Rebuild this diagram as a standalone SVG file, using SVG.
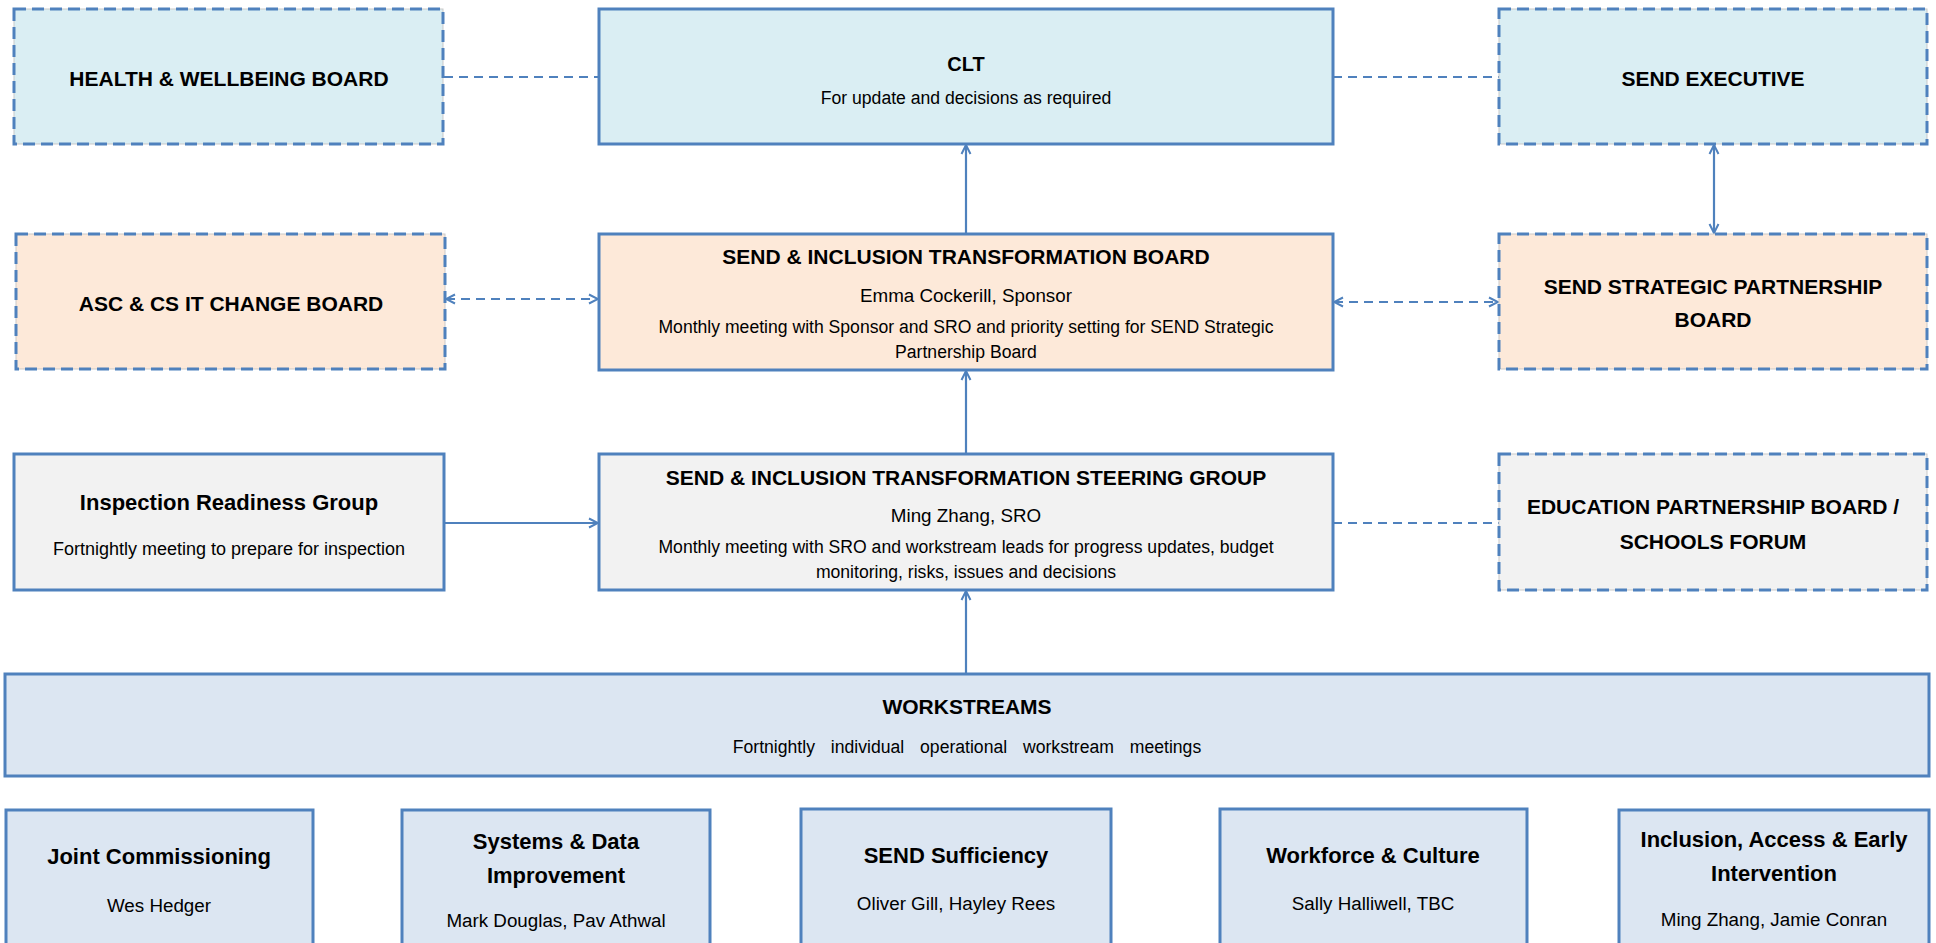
<svg xmlns="http://www.w3.org/2000/svg" width="1936" height="943" viewBox="0 0 1936 943">
<style>
text{font-family:"Liberation Sans",Arial,sans-serif;fill:#000;text-anchor:middle}
.t{font-weight:bold;font-size:21px}
.t2{font-weight:bold;font-size:22px}
.d{font-size:17.6px}
.n{font-size:18.8px}
.solid{stroke:#4F81BD;stroke-width:3}
.dash{stroke:#4F81BD;stroke-width:3;stroke-dasharray:12 6;fill:none}
.edge{stroke:#C9C9C9;stroke-width:1}
.blue{fill:#DAEEF3}
.peach{fill:#FDE9D9}
.grey{fill:#F2F2F2}
.ws{fill:#DCE6F2}
.c{stroke:#4F81BD;stroke-width:2.2;fill:none}
.cd{stroke:#4F81BD;stroke-width:2.2;fill:none;stroke-dasharray:9 6}
</style>
<defs>
<marker id="arr" viewBox="0 0 12 12" refX="11" refY="6" markerWidth="12" markerHeight="12" markerUnits="userSpaceOnUse" orient="auto-start-reverse">
<path d="M2,1.5 L11,6 L2,10.5" fill="none" stroke="#4F81BD" stroke-width="2" stroke-dasharray="none"/>
</marker>
</defs>
<rect width="1936" height="943" fill="#fff"/>

<g id="connectors">
<path class="cd" d="M444,77 H599"/>
<path class="cd" d="M1333,77 H1499"/>
<path class="cd" d="M446,299 H598" marker-start="url(#arr)" marker-end="url(#arr)"/>
<path class="cd" d="M1334,302 H1498" marker-start="url(#arr)" marker-end="url(#arr)"/>
<path class="c" d="M1714,145 V233" marker-start="url(#arr)" marker-end="url(#arr)"/>
<path class="c" d="M966,234 V145" marker-end="url(#arr)"/>
<path class="c" d="M966,454 V371" marker-end="url(#arr)"/>
<path class="c" d="M444,523 H598" marker-end="url(#arr)"/>
<path class="cd" d="M1333,523 H1499"/>
<path class="c" d="M966,674 V591" marker-end="url(#arr)"/>
</g>

<g id="health">
<rect class="blue edge" x="14" y="9" width="429" height="135"/>
<rect class="dash" x="14" y="9" width="429" height="135"/>
<text class="t" x="229" y="86">HEALTH &amp; WELLBEING BOARD</text>
</g>

<g id="clt">
<rect class="blue solid" x="599" y="9" width="734" height="135"/>
<text class="t" x="966" y="71" style="font-size:20px">CLT</text>
<text class="d" x="966" y="104">For update and decisions as required</text>
</g>

<g id="send-executive">
<rect class="blue edge" x="1499" y="9" width="428" height="135"/>
<rect class="dash" x="1499" y="9" width="428" height="135"/>
<text class="t" x="1713" y="86">SEND EXECUTIVE</text>
</g>

<g id="asc-cs">
<rect class="peach edge" x="16" y="234" width="429" height="135"/>
<rect class="dash" x="16" y="234" width="429" height="135"/>
<text class="t" x="231" y="311">ASC &amp; CS IT CHANGE BOARD</text>
</g>

<g id="transformation-board">
<rect class="peach solid" x="599" y="234" width="734" height="136"/>
<text class="t" x="966" y="264">SEND &amp; INCLUSION TRANSFORMATION BOARD</text>
<text class="n" x="966" y="302">Emma Cockerill, Sponsor</text>
<text class="d" x="966" y="333">Monthly meeting with Sponsor and SRO and priority setting for SEND Strategic</text>
<text class="d" x="966" y="358">Partnership Board</text>
</g>

<g id="strategic-partnership">
<rect class="peach edge" x="1499" y="234" width="428" height="135"/>
<rect class="dash" x="1499" y="234" width="428" height="135"/>
<text class="t" x="1713" y="294">SEND STRATEGIC PARTNERSHIP</text>
<text class="t" x="1713" y="327">BOARD</text>
</g>

<g id="inspection-readiness">
<rect class="grey solid" x="14" y="454" width="430" height="136"/>
<text class="t2" x="229" y="510">Inspection Readiness Group</text>
<text class="d" x="229" y="555" style="font-size:18px">Fortnightly meeting to prepare for inspection</text>
</g>

<g id="steering-group">
<rect class="grey solid" x="599" y="454" width="734" height="136"/>
<text class="t" x="966" y="485">SEND &amp; INCLUSION TRANSFORMATION STEERING GROUP</text>
<text class="n" x="966" y="522">Ming Zhang, SRO</text>
<text class="d" x="966" y="553">Monthly meeting with SRO and workstream leads for progress updates, budget</text>
<text class="d" x="966" y="578">monitoring, risks, issues and decisions</text>
</g>

<g id="education-partnership">
<rect class="grey edge" x="1499" y="454" width="428" height="136"/>
<rect class="dash" x="1499" y="454" width="428" height="136"/>
<text class="t" x="1713" y="514">EDUCATION PARTNERSHIP BOARD /</text>
<text class="t" x="1713" y="549">SCHOOLS FORUM</text>
</g>

<g id="workstreams">
<rect class="ws solid" x="5" y="674" width="1924" height="102"/>
<text class="t" x="967" y="714">WORKSTREAMS</text>
<text class="d" x="967" y="753" style="word-spacing:11px">Fortnightly individual operational workstream meetings</text>
</g>

<g id="joint-commissioning">
<rect class="ws solid" x="6" y="810" width="307" height="160"/>
<text class="t2" x="159" y="864">Joint Commissioning</text>
<text class="n" x="159" y="912">Wes Hedger</text>
</g>

<g id="systems-data">
<rect class="ws solid" x="402" y="810" width="308" height="160"/>
<text class="t2" x="556" y="849">Systems &amp; Data</text>
<text class="t2" x="556" y="883">Improvement</text>
<text class="n" x="556" y="927">Mark Douglas, Pav Athwal</text>
</g>

<g id="send-sufficiency">
<rect class="ws solid" x="801" y="809" width="310" height="160"/>
<text class="t2" x="956" y="863">SEND Sufficiency</text>
<text class="n" x="956" y="910">Oliver Gill, Hayley Rees</text>
</g>

<g id="workforce-culture">
<rect class="ws solid" x="1220" y="809" width="307" height="160"/>
<text class="t2" x="1373" y="863">Workforce &amp; Culture</text>
<text class="n" x="1373" y="910">Sally Halliwell, TBC</text>
</g>

<g id="inclusion-access">
<rect class="ws solid" x="1619" y="810" width="310" height="160"/>
<text class="t2" x="1774" y="847">Inclusion, Access &amp; Early</text>
<text class="t2" x="1774" y="881">Intervention</text>
<text class="n" x="1774" y="926">Ming Zhang, Jamie Conran</text>
</g>
</svg>
